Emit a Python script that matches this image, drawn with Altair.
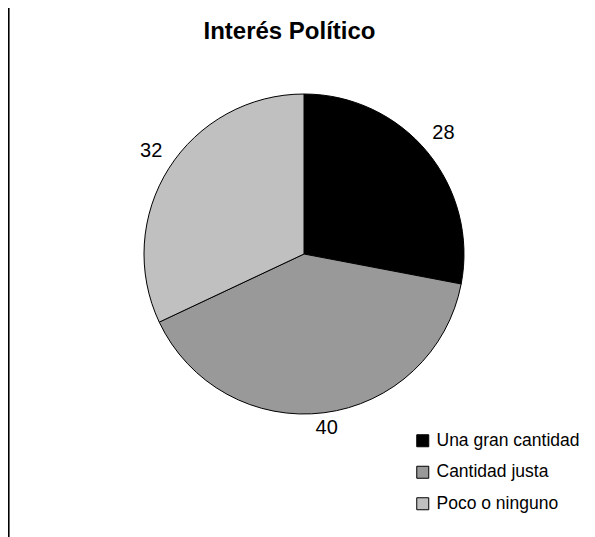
import altair as alt
import pandas as pd

categories = ["Una gran cantidad", "Cantidad justa", "Poco o ninguno"]
values = [28, 40, 32]
colors = ["#000000", "#999999", "#c0c0c0"]
order = [1, 2, 3]

df = pd.DataFrame({"cat": categories, "val": values, "ord": order})

cx, cy = 296, 246

base = alt.Chart(df).encode(
    theta=alt.Theta("val:Q", stack=True),
    order=alt.Order("ord:Q"),
)

pie = base.mark_arc(stroke="#000000", strokeWidth=1, radius=160).encode(
    x=alt.value(cx),
    y=alt.value(cy),
    color=alt.Color(
        "cat:N",
        scale=alt.Scale(domain=categories, range=colors),
        sort=categories,
        legend=alt.Legend(
            title=None,
            orient="none",
            legendX=406,
            legendY=424,
            padding=0,
            symbolType="square",
            symbolSize=144,
            symbolStrokeColor="#000000",
            symbolStrokeWidth=1,
            labelFont="Liberation Sans",
            labelFontSize=17.5,
            labelColor="#000000",
            labelOffset=5,
            rowPadding=12.5,
        ),
    ),
)

labels = base.mark_text(
    radius=181, font="Liberation Sans", fontSize=20, color="#000000",
    baseline="middle", align="center", dy=-6,
).encode(
    x=alt.value(cx),
    y=alt.value(cy),
    text=alt.Text("val:Q"),
)

frame = alt.Chart(df).mark_rule(color="#000000", strokeWidth=1.5).encode(
    x=alt.value(0.5), y=alt.value(0), y2=alt.value(529)
)

chart = alt.layer(pie, labels, frame).properties(
    width=579,
    height=529,
    padding=0,
    autosize=alt.AutoSizeParams(type="none"),
    title=alt.TitleParams(
        "Interés Político",
        font="Liberation Sans",
        fontSize=24,
        fontWeight="bold",
        color="#000000",
        anchor="middle",
        baseline="alphabetic",
        offset=0,
        dy=56,
        dx=-8,
    ),
).configure_view(stroke=None, strokeWidth=0)

chart.save("out.html", embed_options={"renderer": "svg", "actions": False})
